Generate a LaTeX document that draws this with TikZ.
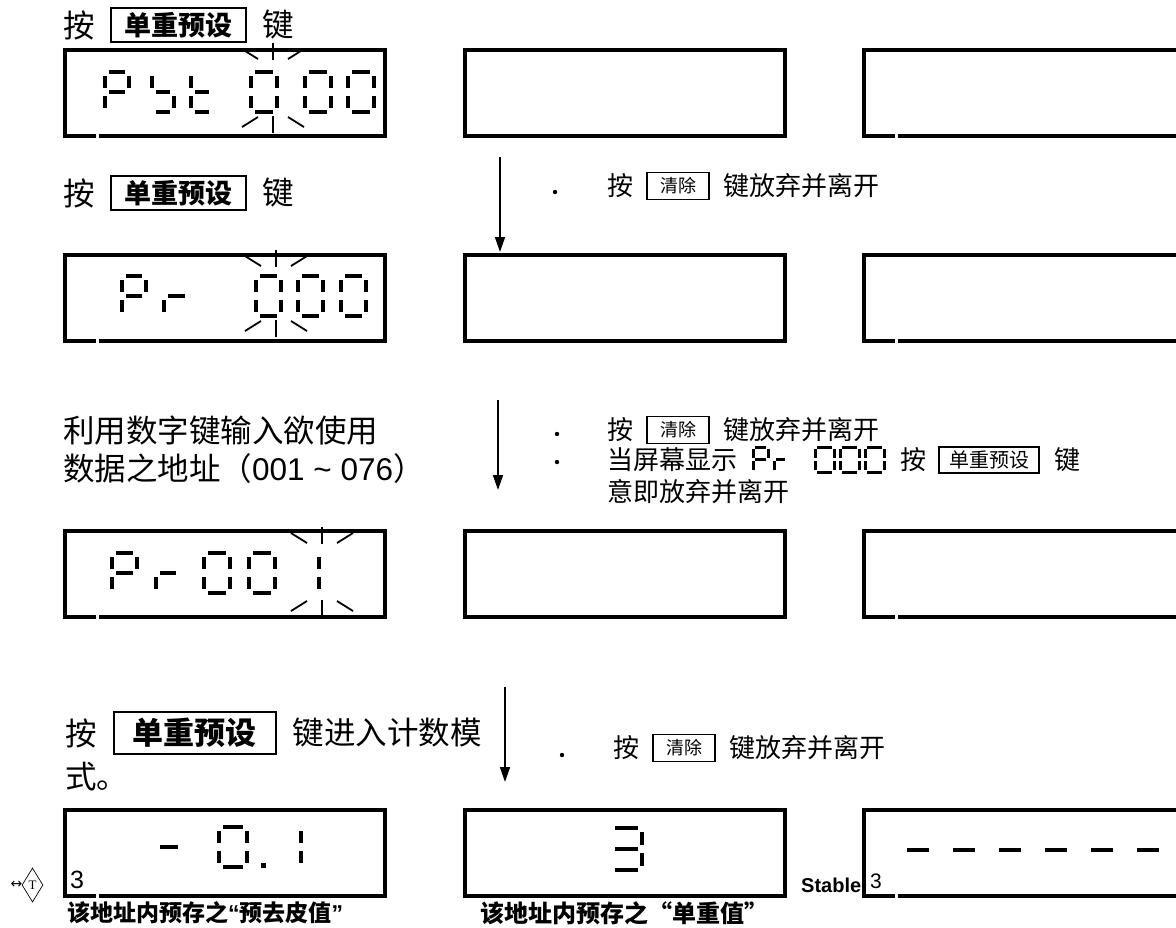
\documentclass[tikz,border=0pt]{standalone}
\usepackage{fontspec}
\setmainfont{Liberation Sans}
\newfontfamily\cjk{Noto Sans CJK SC}
\newfontfamily\serifT{Liberation Serif}
\newfontfamily\symb{DejaVu Sans}
\usetikzlibrary{
  positioning,
  arrows.meta,
  shapes.geometric
}

% seven segment pieces, origin = top left of the digit
\newcommand{\sgap}{4}
\newcommand{\segparta}{\draw[seg] (\sx+\sgap,\sy) -- (\sx+\sw-\sgap,\sy);}
\newcommand{\segpartb}{\draw[seg] (\sx+\sw,\sy+\sgap) -- (\sx+\sw,\sy+\sh/2-\sgap);}
\newcommand{\segpartc}{\draw[seg] (\sx+\sw,\sy+\sh/2+\sgap) -- (\sx+\sw,\sy+\sh-\sgap);}
\newcommand{\segpartd}{\draw[seg] (\sx+\sgap,\sy+\sh) -- (\sx+\sw-\sgap,\sy+\sh);}
\newcommand{\segparte}{\draw[seg] (\sx,\sy+\sh/2+\sgap) -- (\sx,\sy+\sh-\sgap);}
\newcommand{\segpartf}{\draw[seg] (\sx,\sy+\sgap) -- (\sx,\sy+\sh/2-\sgap);}
\newcommand{\segpartg}{\draw[seg] (\sx+\sgap,\sy+\sh/2) -- (\sx+\sw-\sgap,\sy+\sh/2);}
\newcommand{\lcdchar}[5]{\def\sx{#1}\def\sy{#2}\def\sw{#3}\def\sh{#4}%
  \foreach \segname in {#5}{\csname segpart\segname\endcsname}}
% blinking marks round a digit
\newcommand{\blink}[3]{%
  \draw[flash] (#1-31,#2+6) -- (#1-15,#2+16);
  \draw[flash] (#1,#2) -- (#1,#2+17);
  \draw[flash] (#1+15,#2+16) -- (#1+31,#2+6);
  \draw[flash] (#1-31,#3-6) -- (#1-15,#3-16);
  \draw[flash] (#1,#3) -- (#1,#3-17);
  \draw[flash] (#1+15,#3-16) -- (#1+31,#3-6);}

\begin{document}
\begin{tikzpicture}[
  x=1pt, y=-1pt,
  big/.style={inner sep=0pt, anchor=west, font=\cjk\fontsize{31.5}{38}\selectfont},
  note/.style={inner sep=0pt, anchor=west, font=\cjk\fontsize{26}{30}\selectfont},
  capt/.style={inner sep=0pt, anchor=west, font=\cjk\bfseries\fontsize{23}{24}\selectfont},
  keyb/.style={draw, line width=1.6pt, inner sep=0pt, minimum width=135pt, minimum height=34pt,
               font=\cjk\bfseries\fontsize{27}{27}\selectfont},
  keys/.style={draw, line width=1.5pt, inner sep=0pt, minimum width=62pt, minimum height=27pt,
               font=\cjk\fontsize{18}{18}\selectfont},
  lcd/.style={draw, line width=4pt, minimum width=320pt, minimum height=86pt, inner sep=0pt},
  seg/.style={line width=4.5pt},
  flash/.style={line width=1.8pt},
  arr/.style={-{Triangle[length=15pt,width=10pt]}, line width=1.6pt},
]
  \useasboundingbox (0,0) rectangle (1176,927);

  % display windows
  \node[lcd] (d1l) at (225,93) {};
  \node[lcd] (d1m) at (624.5,93) {};
  \node[lcd] (d1r) at (1024,93) {};
  \node[lcd] (d2l) at (225,298) {};
  \node[lcd] (d2m) at (624.5,298) {};
  \node[lcd] (d2r) at (1024,298) {};
  \node[lcd] (d3l) at (225,574) {};
  \node[lcd] (d3m) at (624.5,574) {};
  \node[lcd] (d3r) at (1024,574) {};
  \node[lcd] (d4l) at (225,852.5) {};
  \node[lcd] (d4m) at (624.5,852.5) {};
  \node[lcd] (d4r) at (1024,852.5) {};
  \foreach \n in {d1l,d1r,d2l,d2r,d3l,d3r,d4l,d4r}
    \fill[white] ([xshift=33pt,yshift=5pt]\n.south west) rectangle ++(2.5,6);

  % row 1
  \node[big] (an1) at (63,25) {按};
  \node[keyb, right=15pt of an1] (k1) {单重预设};
  \node[big, right=16pt of k1] (jian1) {键};
  \lcdchar{105}{72}{24}{40}{a,b,f,g,e}
  \lcdchar{152}{72}{22}{40}{f,g,c,d}
  \lcdchar{191}{72}{22}{40}{f,e,g,d}
  \lcdchar{251}{72}{26}{40}{a,b,c,d,e,f}
  \lcdchar{305}{72}{26}{40}{a,b,c,d,e,f}
  \lcdchar{348}{72}{26}{40}{a,b,c,d,e,f}
  \blink{273}{43}{133}

  % row 2
  \node[big] (an2) at (63,193) {按};
  \node[keyb, right=15pt of an2] (k2) {单重预设};
  \node[big, right=16pt of k2] (jian2) {键};
  \coordinate (a2s) at (500,157);
  \coordinate (a2e) at (500,252);
  \draw[arr] (a2s) -- (a2e);
  \fill (555,192) circle (2.2);
  \node[note] (n2a) at (607,186) {按};
  \node[keys, right=13pt of n2a] (c2) {清除};
  \node[note, right=13pt of c2] (n2b) {键放弃并离开};
  \lcdchar{122}{276}{24}{40}{a,b,f,g,e}
  \lcdchar{164}{276}{25}{40}{e,g}
  \lcdchar{256}{276}{25}{40}{a,b,c,d,e,f}
  \lcdchar{298}{276}{25}{40}{a,b,c,d,e,f}
  \lcdchar{341}{276}{25}{40}{a,b,c,d,e,f}
  \blink{276}{250}{337}

  % row 3
  \node[big, align=left] (use3) at (63,450)
    {利用数字键输入欲使用\\数据之地址（\normalfont 001 \textasciitilde{} 076\cjk ）};
  \coordinate (a3s) at (498,400);
  \coordinate (a3e) at (498,490);
  \draw[arr] (a3s) -- (a3e);
  \fill (557,434) circle (2.2);
  \fill (557,462) circle (2.2);
  \node[note] (n3a) at (607,430) {按};
  \node[keys, right=13pt of n3a] (c3) {清除};
  \node[note, right=13pt of c3] (n3b) {键放弃并离开};
  \node[note] (n3c) at (607,460) {当屏幕显示};
  \begin{scope}[seg/.style={line width=3pt}]
    \def\sgap{1.8}
    \lcdchar{753}{447}{15}{25}{a,b,f,g,e}
    \lcdchar{774}{447}{13}{25}{e,g}
    \lcdchar{815}{447}{19}{25}{a,b,c,d,e,f}
    \lcdchar{840}{447}{19}{25}{a,b,c,d,e,f}
    \lcdchar{865}{447}{19}{25}{a,b,c,d,e,f}
  \end{scope}
  \node[note] (n3d) at (900,460) {按};
  \node[keys, minimum width=100pt, minimum height=26pt, font=\cjk\fontsize{20}{20}\selectfont,
        right=12pt of n3d] (p3) {单重预设};
  \node[note, right=14pt of p3] (n3e) {键};
  \node[note] (n3f) at (607,492) {意即放弃并离开};
  \lcdchar{112}{553}{25}{40}{a,b,f,g,e}
  \lcdchar{156}{553}{24}{40}{e,g}
  \lcdchar{204}{553}{26}{40}{a,b,c,d,e,f}
  \lcdchar{249}{553}{26}{40}{a,b,c,d,e,f}
  \lcdchar{293}{553}{26}{40}{b,c}
  \blink{322}{527}{617}

  % row 4
  \node[big] (an4) at (65,733) {按};
  \node[keyb, minimum width=162pt, minimum height=42pt, font=\cjk\bfseries\fontsize{31}{31}\selectfont,
        right=16pt of an4] (k4) {单重预设};
  \node[big, right=16pt of k4] (jian4) {键进入计数模};
  \node[big] (shi4) at (65,777) {式。};
  \coordinate (a4s) at (505,687);
  \coordinate (a4e) at (505,782);
  \draw[arr] (a4s) -- (a4e);
  \fill (562,755) circle (2.2);
  \node[note] (n4a) at (613,748) {按};
  \node[keys, right=13pt of n4a] (c4) {清除};
  \node[note, right=13pt of c4] (n4b) {键放弃并离开};
  \lcdchar{156}{827}{26}{40}{g}
  \lcdchar{219}{827}{28}{40}{a,b,c,d,e,f}
  \fill (261,863) rectangle ++(5,5);
  \lcdchar{275}{827}{26}{40}{b,c}
  \lcdchar{611}{828}{31}{42}{a,b,g,c,d}
  \foreach \k in {0,...,5}
    \draw[seg] (907+46*\k,850) -- ++(22,0);

  % small marks and captions
  \node[draw, diamond, line width=0.7pt, inner sep=0pt, minimum width=21pt, minimum height=34pt,
        font=\serifT\fontsize{13}{13}\selectfont] (tare) at (32.5,885) {T};
  \node[inner sep=0pt, font=\symb\fontsize{14}{14}\selectfont, left=-1pt of tare] (tarearr) {↔};
  \node[inner sep=0pt, anchor=base west, font=\fontsize{25}{25}\selectfont] (n3l) at (70,888) {3};
  \node[inner sep=0pt, anchor=base west, font=\bfseries\fontsize{20}{20}\selectfont] (stab) at (801,892) {Stable};
  \node[inner sep=0pt, anchor=base west, font=\fontsize{21}{21}\selectfont] (n3r) at (870,888) {3};
  \node[capt] (cap1) at (67,913) {该地址内预存之{\normalfont\bfseries “}预去皮值{\normalfont\bfseries ”}};
  \node[capt, font=\cjk\bfseries\fontsize{24}{24}\selectfont] (cap2) at (480,913) {该地址内预存之“单重值”};
\end{tikzpicture}
\end{document}
